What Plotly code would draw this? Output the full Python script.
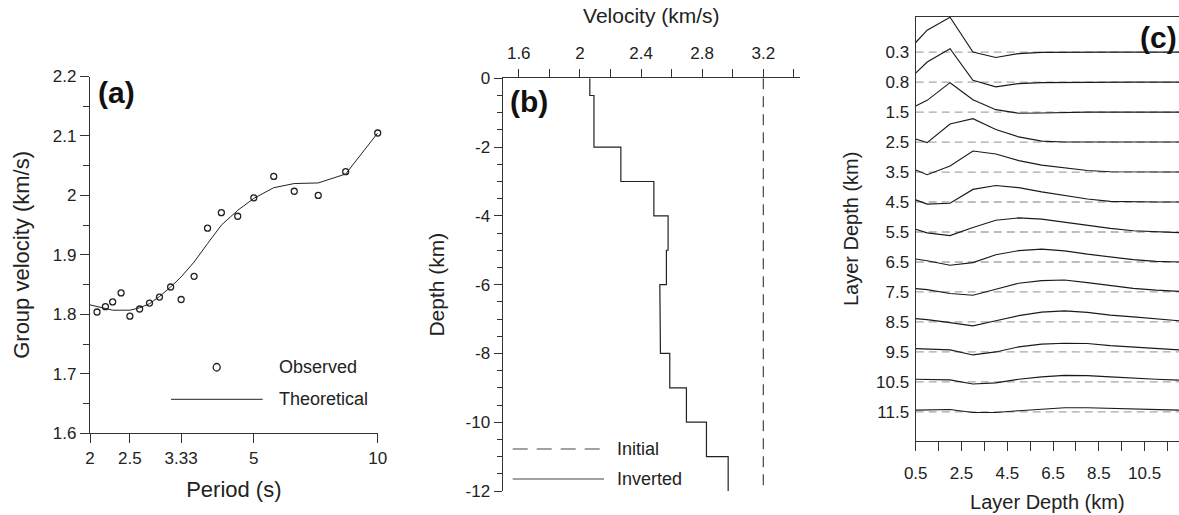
import plotly.graph_objects as go

W, H = 1179, 515
OFF = 0
FONT = "Liberation Sans, Arial, sans-serif"
TXT = "#222222"
AX = "#333333"

# ---------------- data: panel (a) ----------------
periods = [2.0, 2.08, 2.18, 2.27, 2.38, 2.5, 2.64, 2.79, 2.95, 3.14, 3.33,
           3.58, 3.86, 4.17, 4.57, 5.0, 5.59, 6.27, 7.17, 8.36, 10.0]
observed = [1.802, 1.804, 1.813, 1.821, 1.836, 1.797, 1.809, 1.819, 1.829, 1.846, 1.825,
            1.864, 1.945, 1.971, 1.965, 1.996, 2.032, 2.007, 2.000, 2.040, 2.105]
theoretical = [1.816, 1.813, 1.810, 1.807, 1.807, 1.807, 1.811, 1.818, 1.830, 1.846, 1.863,
               1.888, 1.919, 1.950, 1.975, 1.995, 2.013, 2.020, 2.021, 2.036, 2.105]
period_ticks = [2, 2.5, 3.33, 5, 10]
period_labels = ["2", "2.5", "3.33", "5", "10"]
gv_ticks = [1.6, 1.7, 1.8, 1.9, 2.0, 2.1, 2.2]
gv_labels = ["1.6", "1.7", "1.8", "1.9", "2", "2.1", "2.2"]

# ---------------- data: panel (b) ----------------
layer_top = [0, 0.5, 1, 2, 3, 4, 5, 6, 7, 8, 9, 10, 11]
layer_bottom = [0.5, 1, 2, 3, 4, 5, 6, 7, 8, 9, 10, 11, 12]
inverted_vs = [2.065, 2.092, 2.092, 2.268, 2.484, 2.577, 2.566, 2.523, 2.527,
               2.588, 2.697, 2.828, 2.970]
initial_vs = [3.2, 3.2, 3.2, 3.2, 3.2, 3.2, 3.2, 3.2, 3.2, 3.2, 3.2, 3.2, 3.2]
vel_ticks = [1.6, 2.0, 2.4, 2.8, 3.2]
vel_labels = ["1.6", "2", "2.4", "2.8", "3.2"]
depth_ticks = [0, -2, -4, -6, -8, -10, -12]
depth_labels = ["0", "-2", "-4", "-6", "-8", "-10", "-12"]

# ---------------- data: panel (c) ----------------
layer_labels = ["0.3", "0.8", "1.5", "2.5", "3.5", "4.5", "5.5", "6.5",
                "7.5", "8.5", "9.5", "10.5", "11.5"]
# resolution kernels (one row per layer), sampled at layer_bottom depths
kernels = [
    [0.32, 0.73, 1.16, 0.00, -0.18, -0.05, -0.01, 0.00, 0.00, 0.00, 0.00, 0.00, 0.00],
    [0.30, 0.67, 1.11, 0.06, -0.16, -0.05, -0.02, -0.01, 0.00, 0.00, 0.00, 0.00, 0.00],
    [0.20, 0.39, 0.98, 0.41, 0.08, -0.04, -0.03, -0.01, 0.00, 0.00, 0.00, 0.00, 0.00],
    [0.10, -0.02, 0.60, 0.78, 0.42, 0.17, 0.03, 0.00, 0.00, 0.00, 0.00, 0.00, 0.00],
    [0.07, -0.09, 0.20, 0.70, 0.60, 0.38, 0.23, 0.13, 0.05, 0.01, 0.00, 0.00, 0.00],
    [0.07, -0.07, -0.04, 0.42, 0.55, 0.48, 0.34, 0.21, 0.10, 0.02, 0.00, 0.00, 0.00],
    [0.09, -0.03, -0.12, 0.15, 0.39, 0.47, 0.43, 0.32, 0.21, 0.12, 0.04, 0.00, -0.02],
    [0.10, 0.04, -0.11, -0.02, 0.24, 0.38, 0.43, 0.37, 0.26, 0.16, 0.08, 0.02, 0.00],
    [0.11, 0.08, -0.05, -0.11, 0.09, 0.29, 0.38, 0.40, 0.31, 0.21, 0.12, 0.06, 0.02],
    [0.11, 0.08, -0.02, -0.13, 0.04, 0.21, 0.33, 0.37, 0.32, 0.23, 0.17, 0.10, 0.04],
    [0.11, 0.10, 0.07, -0.10, 0.00, 0.17, 0.26, 0.29, 0.28, 0.21, 0.16, 0.11, 0.07],
    [0.09, 0.09, 0.07, -0.07, -0.03, 0.09, 0.17, 0.22, 0.21, 0.17, 0.12, 0.09, 0.06],
    [0.06, 0.07, 0.08, -0.02, -0.02, 0.04, 0.10, 0.14, 0.14, 0.12, 0.10, 0.08, 0.06],
]
ld_ticks = [0.5, 2.5, 4.5, 6.5, 8.5, 10.5]
ld_labels = ["0.5", "2.5", "4.5", "6.5", "8.5", "10.5"]


def px(x):
    return (x - OFF) / W


def py(y):
    return 1 - (y - OFF) / H


fig = go.Figure()

# ---- (a) ----
fig.add_trace(go.Scatter(x=periods, y=theoretical, mode="lines",
                         line=dict(color="#222222", width=1),
                         xaxis="x", yaxis="y", showlegend=False))
fig.add_trace(go.Scatter(x=periods, y=observed, mode="markers",
                         marker=dict(symbol="circle-open", size=6, color="#222222",
                                     line=dict(width=1.3)),
                         xaxis="x", yaxis="y", showlegend=False, cliponaxis=False))

# ---- (b) ----
def step_profile(vs):
    xs, ys = [], []
    for v, t, b in zip(vs, layer_top, layer_bottom):
        xs += [v, v]
        ys += [-t, -b]
    return xs, ys


ix, iy = step_profile(initial_vs)
fig.add_trace(go.Scatter(x=ix, y=iy, mode="lines",
                         line=dict(color="#444444", width=1.2, dash="11px,7px"),
                         xaxis="x2", yaxis="y2", showlegend=False))
vx, vy = step_profile(inverted_vs)
fig.add_trace(go.Scatter(x=vx, y=vy, mode="lines",
                         line=dict(color="#222222", width=1.2),
                         xaxis="x2", yaxis="y2", showlegend=False))

# ---- (c) ----
for i in range(len(layer_labels)):
    fig.add_trace(go.Scatter(x=[layer_bottom[0], layer_bottom[-1]], y=[i, i], mode="lines",
                             line=dict(color="#a8a8a8", width=1.3, dash="8px,5px"),
                             xaxis="x3", yaxis="y3", showlegend=False))
for i, k in enumerate(kernels):
    fig.add_trace(go.Scatter(x=layer_bottom, y=[i - v for v in k], mode="lines",
                             line=dict(color="#1a1a1a", width=1.15),
                             xaxis="x3", yaxis="y3", showlegend=False))

tickfont = dict(family=FONT, size=17, color=TXT)
common = dict(showgrid=False, zeroline=False, showline=True, linecolor=AX, linewidth=1.3,
              tickcolor=AX, tickwidth=1.2, tickfont=tickfont, automargin=False)

fig.update_layout(
    width=W, height=H,
    margin=dict(l=0, r=0, t=0, b=0, autoexpand=False),
    paper_bgcolor="white", plot_bgcolor="white",
    font=dict(family=FONT, color=TXT),
    hovermode=False,
    xaxis=dict(domain=[px(90), px(377.7)], type="log", range=[0.30103, 1.0],
               anchor="y", tickmode="array", tickvals=period_ticks, ticktext=period_labels,
               ticks="outside", ticklen=9,
               title=dict(text="Period (s)", font=dict(family=FONT, size=22, color=TXT), standoff=14),
               **common),
    yaxis=dict(domain=[py(433.3), py(76.5)], range=[1.6, 2.2], anchor="x",
               tickmode="array", tickvals=gv_ticks, ticktext=gv_labels,
               ticks="outside", ticklen=9,
               minor=dict(ticks="outside", ticklen=6, dtick=0.05, tick0=1.6, tickcolor=AX),
               title=dict(text="Group velocity (km/s)", font=dict(family=FONT, size=22, color=TXT), standoff=17),
               **common),
    xaxis2=dict(domain=[px(502.7), px(800)], range=[1.495, 3.44], anchor="y2", side="top",
                tickmode="array", tickvals=vel_ticks, ticktext=vel_labels,
                ticks="outside", ticklen=8, ticklabelstandoff=3,
                minor=dict(ticks="outside", ticklen=8, dtick=0.2, tick0=1.6, tickcolor=AX),
                title=dict(text="Velocity (km/s)", font=dict(family=FONT, size=21, color=TXT), standoff=14),
                **common),
    yaxis2=dict(domain=[py(491), py(78.3)], range=[-12, 0], anchor="x2",
                tickmode="array", tickvals=depth_ticks, ticktext=depth_labels,
                ticks="outside", ticklen=8,
                minor=dict(ticks="outside", ticklen=5, dtick=0.5, tick0=0, tickcolor=AX),
                title=dict(text="Depth (km)", font=dict(family=FONT, size=21, color=TXT), standoff=15),
                **common),
    xaxis3=dict(domain=[px(915.7), 1.0], range=[0.5, 12], anchor="y3", mirror=True,
                tickmode="array", tickvals=ld_ticks, ticktext=ld_labels,
                ticks="outside", ticklen=9, ticklabelstandoff=8,
                minor=dict(ticks="outside", ticklen=9, dtick=1, tick0=0.5, tickcolor=AX),
                title=dict(text="Layer Depth (km)", font=dict(family=FONT, size=20, color=TXT), standoff=12),
                **common),
    yaxis3=dict(domain=[py(440.7), py(17)], range=[12.96, -1.17], anchor="x3", mirror=True,
                tickmode="array", tickvals=list(range(len(layer_labels))), ticktext=layer_labels,
                ticks="", ticklabelstandoff=2,
                title=dict(text="Layer Depth (km)", font=dict(family=FONT, size=20, color=TXT), standoff=12),
                **common),
)

# panel labels
for txt, (x, y) in [("(a)", (116, 92)), ("(b)", (529, 101)), ("(c)", (1158, 37))]:
    fig.add_annotation(x=px(x), y=py(y), xref="paper", yref="paper", text=f"<b>{txt}</b>",
                       showarrow=False, xanchor="center", yanchor="middle",
                       font=dict(family=FONT, size=30, color="#111111"))

# legend (a)
fig.add_shape(type="circle", xref="paper", yref="paper",
              x0=px(213.2), x1=px(220.2), y0=py(371), y1=py(363.5),
              line=dict(color="#222222", width=1.3))
fig.add_shape(type="line", xref="paper", yref="paper",
              x0=px(171), x1=px(262.7), y0=py(399.3), y1=py(399.3),
              line=dict(color="#222222", width=1))
for txt, y in [("Observed", 367.3), ("Theoretical", 399.3)]:
    fig.add_annotation(x=px(277), y=py(y), xref="paper", yref="paper", text=txt,
                       showarrow=False, xanchor="left", yanchor="middle",
                       font=dict(family=FONT, size=18, color=TXT))

# legend (b)
fig.add_shape(type="line", xref="paper", yref="paper",
              x0=px(512.7), x1=px(604), y0=py(449), y1=py(449),
              line=dict(color="#444444", width=1.2, dash="15px,9px"))
fig.add_shape(type="line", xref="paper", yref="paper",
              x0=px(512.7), x1=px(604), y0=py(479), y1=py(479),
              line=dict(color="#444444", width=1.2))
for txt, y in [("Initial", 449), ("Inverted", 479)]:
    fig.add_annotation(x=px(615), y=py(y), xref="paper", yref="paper", text=txt,
                       showarrow=False, xanchor="left", yanchor="middle",
                       font=dict(family=FONT, size=18, color=TXT))

fig.write_html("out.html", config={"displayModeBar": False},
               post_script="document.body.style.margin='0';document.body.style.overflow='hidden';")
